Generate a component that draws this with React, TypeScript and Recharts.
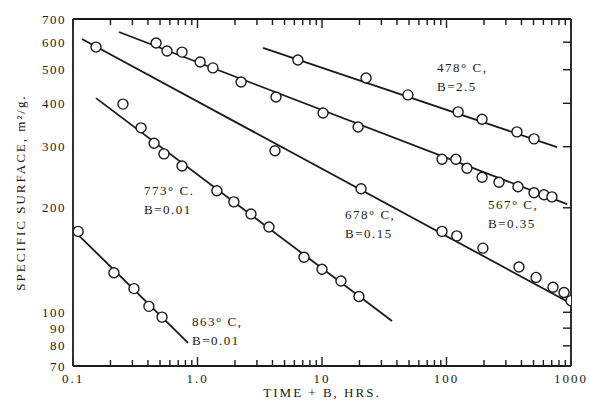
import React from 'react';
import { ComposedChart, Line, Scatter, XAxis, YAxis, ReferenceDot } from 'recharts';

// ---- data (x = time + B in hrs, y = specific surface m2/g) ----
const s478Points = [[6.4, 533], [22.6, 473], [49, 423], [124, 378], [193, 360], [368, 331], [505, 316]];
const s478Fit = [[3.36, 578], [772, 299]];

const s567Points = [[0.465, 597], [0.569, 566], [0.751, 562], [1.05, 526], [1.33, 506], [2.24, 461], [4.27, 417], [10.2, 375], [19.5, 342], [92, 276], [119, 276], [146, 260], [193, 245], [264, 237], [375, 230], [505, 221], [607, 218], [703, 215]];
const s567Fit = [[0.234, 642], [929, 205]];

const s678Points = [[0.153, 581], [4.19, 292], [20.6, 227], [92, 171], [121, 166], [196, 153], [382, 135], [524, 126], [717, 118], [879, 114], [1000, 108]];
const s678Fit = [[0.118, 613], [1000, 106]];

const s773Points = [[0.252, 398], [0.352, 340], [0.448, 307], [0.538, 286], [0.751, 264], [1.43, 224], [1.96, 208], [2.69, 192], [3.75, 176], [7.17, 144], [10, 133], [14.2, 123], [19.8, 111]];
const s773Fit = [[0.153, 414], [36.5, 94.4]];

const s863Points = [[0.11, 171], [0.213, 130], [0.309, 117], [0.407, 104], [0.519, 96.8]];
const s863Fit = [[0.105, 170], [0.84, 81.6]];

const xTicks = [0.1, 0.2, 0.3, 0.4, 0.5, 0.6, 0.7, 0.8, 0.9, 1, 2, 3, 4, 5, 6, 7, 8, 9, 10, 20, 30, 40, 50, 60, 70, 80, 90, 100, 200, 300, 400, 500, 600, 700, 800, 900, 1000];
const xMajor = [0.1, 1, 10, 100, 1000];
const xMajorLabels = ['0.1', '1.0', '10', '100', '1000'];
const yTicks = [70, 80, 90, 100, 200, 300, 400, 500, 600, 700];
const yTickLabels = ['70', '80', '90', '100', '200', '300', '400', '500', '600', '700'];
const X_MIN = 0.1, X_MAX = 1000, Y_MIN = 70, Y_MAX = 700;

const annotations = [
  { x: 84, y: 493, lines: ['478° C,', 'B=2.5'] },
  { x: 215, y: 198, lines: ['567° C,', 'B=0.35'] },
  { x: 15.3, y: 186, lines: ['678° C,', 'B=0.15'] },
  { x: 0.372, y: 218, lines: ['773° C.', 'B=0.01'] },
  { x: 0.904, y: 91.3, lines: ['863° C,', 'B=0.01'] },
];

const toObj = (arr: number[][]) => arr.map(([x, y]) => ({ x, y }));
const pointSeries = [s478Points, s567Points, s678Points, s773Points, s863Points].map(toObj);
const fitSeries = [s478Fit, s567Fit, s678Fit, s773Fit, s863Fit].map(toObj);

// tick-mark marker series, placed on the frame edges through the scales
const bottomMarks = xTicks.map((x) => ({ x, y: Y_MIN }));
const topMarks = xTicks.map((x) => ({ x, y: Y_MAX }));
const leftMarks = yTicks.map((y) => ({ x: X_MIN, y }));
const rightMarks = yTicks.map((y) => ({ x: X_MAX, y }));

const FONT = "'Liberation Serif', 'DejaVu Serif', serif";
const INK = '#1a1a1a';
const TW = 1.4;

const majorIndex = (v: number) => xMajor.findIndex((m) => Math.abs(m - v) < 1e-9);

const BottomMark = (p: any) => {
  const len = majorIndex(p.payload.x) >= 0 ? 9 : 6;
  return <rect x={p.cx - TW / 2} y={p.cy - len} width={TW} height={len} fill={INK} />;
};
const TopMark = (p: any) => {
  const len = majorIndex(p.payload.x) >= 0 ? 9 : 6;
  return <rect x={p.cx - TW / 2} y={p.cy} width={TW} height={len} fill={INK} />;
};
const LeftMark = (p: any) => <rect x={p.cx - 5} y={p.cy - TW / 2} width={5} height={TW} fill={INK} />;
const RightMark = (p: any) => <rect x={p.cx - 8} y={p.cy - TW / 2} width={8} height={TW} fill={INK} />;

const BottomTick = (props: any) => {
  const { x, y, payload } = props;
  const mi = majorIndex(payload.value);
  if (mi < 0) return <g />;
  return (
    <text x={x} y={y + 17} textAnchor="middle" fontFamily={FONT} fontSize={13} letterSpacing={2} fill={INK}>
      {xMajorLabels[mi]}
    </text>
  );
};

const LeftTick = (props: any) => {
  const { x, y, payload } = props;
  const i = yTicks.findIndex((t) => Math.abs(t - payload.value) < 1e-9);
  return (
    <text x={x - 7} y={y + 4.5} textAnchor="end" fontFamily={FONT} fontSize={13} letterSpacing={1.5} fill={INK}>
      {yTickLabels[i]}
    </text>
  );
};

const OpenCircle = (p: any) => (
  <circle cx={p.cx} cy={p.cy} r={5} fill="#fff" stroke={INK} strokeWidth={1.4} />
);

const axisLine = { stroke: INK, strokeWidth: 1.8 };

export default function App() {
  return (
    <div style={{ position: 'absolute', left: 0, top: 0, background: '#fff' }}>
      <ComposedChart width={590} height={406} margin={{ top: 0, right: 0, bottom: 0, left: 0 }}>
        <XAxis
          xAxisId="b"
          dataKey="x"
          type="number"
          scale="log"
          domain={[X_MIN, X_MAX]}
          allowDataOverflow
          ticks={xTicks}
          interval={0}
          orientation="bottom"
          height={40}
          tickLine={false}
          tickSize={0}
          tickMargin={0}
          axisLine={axisLine}
          tick={(p: any) => <BottomTick {...p} />}
          label={(p: any) => {
            const vb = p.viewBox;
            return (
              <text x={vb.x + vb.width / 2} y={vb.y + 31} textAnchor="middle" fontFamily={FONT} fontSize={13} letterSpacing={2} fill={INK}>
                TIME + B,  HRS.
              </text>
            );
          }}
        />
        <XAxis
          xAxisId="t"
          dataKey="x"
          type="number"
          scale="log"
          domain={[X_MIN, X_MAX]}
          allowDataOverflow
          ticks={xTicks}
          interval={0}
          orientation="top"
          height={19}
          tickLine={false}
          tick={false}
          axisLine={axisLine}
        />
        <YAxis
          yAxisId="l"
          dataKey="y"
          type="number"
          scale="log"
          domain={[Y_MIN, Y_MAX]}
          allowDataOverflow
          ticks={yTicks}
          interval={0}
          orientation="left"
          width={73}
          tickLine={false}
          tickSize={0}
          tickMargin={0}
          axisLine={axisLine}
          tick={(p: any) => <LeftTick {...p} />}
          label={(p: any) => {
            const vb = p.viewBox;
            const cx = vb.x + 20;
            const cy = vb.y + vb.height / 2;
            return (
              <text x={cx} y={cy} transform={`rotate(-90 ${cx} ${cy})`} textAnchor="middle" dominantBaseline="central" fontFamily={FONT} fontSize={13} letterSpacing={2} fill={INK}>
                SPECIFIC SURFACE,  m²/g.
              </text>
            );
          }}
        />
        <YAxis
          yAxisId="r"
          dataKey="y"
          type="number"
          scale="log"
          domain={[Y_MIN, Y_MAX]}
          allowDataOverflow
          ticks={yTicks}
          interval={0}
          orientation="right"
          width={19}
          tickLine={false}
          tick={false}
          axisLine={axisLine}
        />
        {fitSeries.map((d, i) => (
          <Line
            key={'fit' + i}
            xAxisId="t"
            yAxisId="r"
            data={d}
            dataKey="y"
            type="linear"
            stroke={INK}
            strokeWidth={1.8}
            dot={false}
            activeDot={false}
            isAnimationActive={false}
          />
        ))}
        <Scatter xAxisId="b" yAxisId="l" data={bottomMarks} dataKey="y" shape={BottomMark} isAnimationActive={false} />
        <Scatter xAxisId="b" yAxisId="l" data={topMarks} dataKey="y" shape={TopMark} isAnimationActive={false} />
        <Scatter xAxisId="b" yAxisId="l" data={leftMarks} dataKey="y" shape={LeftMark} isAnimationActive={false} />
        <Scatter xAxisId="b" yAxisId="l" data={rightMarks} dataKey="y" shape={RightMark} isAnimationActive={false} />
        {pointSeries.map((d, i) => (
          <Scatter
            key={'pts' + i}
            xAxisId="b"
            yAxisId="l"
            data={d}
            dataKey="y"
            shape={OpenCircle}
            isAnimationActive={false}
          />
        ))}
        {annotations.map((a, i) => (
          <ReferenceDot
            key={'ann' + i}
            xAxisId="b"
            yAxisId="l"
            x={a.x}
            y={a.y}
            r={0}
            ifOverflow="visible"
            shape={(p: any) => (
              <text x={p.cx} y={p.cy} fontFamily={FONT} fontSize={13} letterSpacing={1.5} fill={INK}>
                <tspan x={p.cx} dy={0}>{a.lines[0]}</tspan>
                <tspan x={p.cx} dy={19}>{a.lines[1]}</tspan>
              </text>
            )}
          />
        ))}
      </ComposedChart>
    </div>
  );
}
